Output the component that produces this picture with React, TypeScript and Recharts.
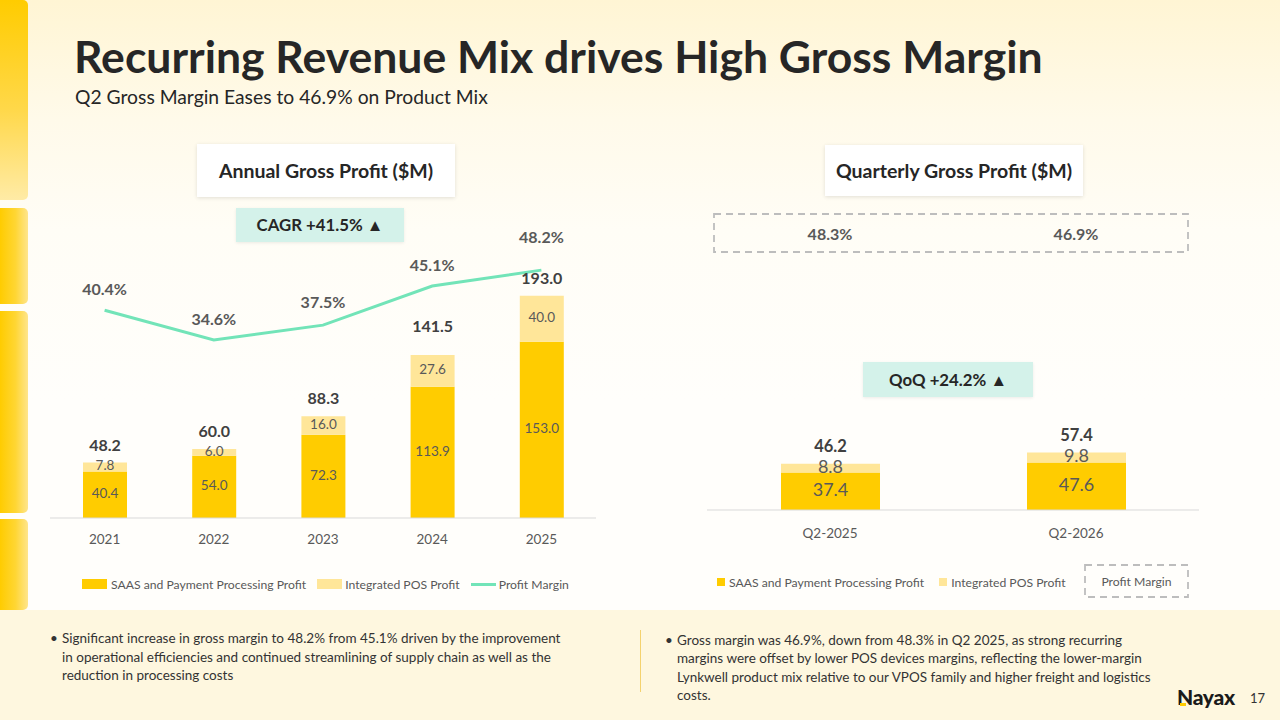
import React from 'react';
import { ComposedChart, BarChart, Bar, Line, XAxis, YAxis, LabelList } from 'recharts';

// ---------- data ----------
const years = ['2021', '2022', '2023', '2024', '2025'];
const saasAnnual = [40.4, 54.0, 72.3, 113.9, 153.0];
const posAnnual = [7.8, 6.0, 16.0, 27.6, 40.0];
const totalAnnual = [48.2, 60.0, 88.3, 141.5, 193.0];
const marginAnnual = [40.4, 34.6, 37.5, 45.1, 48.2];

const quarters = ['Q2-2025', 'Q2-2026'];
const saasQuarterly = [37.4, 47.6];
const posQuarterly = [8.8, 9.8];
const totalQuarterly = [46.2, 57.4];
const marginQuarterly = [48.3, 46.9];

const annualData = years.map((year, i) => ({
  year,
  saas: saasAnnual[i],
  pos: posAnnual[i],
  total: totalAnnual[i],
  margin: marginAnnual[i],
}));
const quarterlyData = quarters.map((q, i) => ({
  q,
  saas: saasQuarterly[i],
  pos: posQuarterly[i],
  total: totalQuarterly[i],
}));

// ---------- styles ----------
const FONT = "Lato, 'Noto Sans', sans-serif";
const SAAS = '#FFCC00';
const POS = '#FFE699';
const MINT = '#72E4B8';
const AXIS = '#D9D9D9';

const fmt1 = (v: number) => v.toFixed(1);

const TotalLabelLeft = (props: any) => {
  const { x, y, width, index } = props;
  const lift = index === 3 ? 27 : 16;
  return (
    <text x={x + width / 2} y={y - lift} textAnchor="middle" dominantBaseline="middle"
      fontFamily={FONT} fontSize={16} fontWeight={700} fill="#404040">
      {fmt1(totalAnnual[index])}
    </text>
  );
};

const PctLabel = (props: any) => {
  const { x, y, index, value } = props;
  const lift = index === 4 ? 31 : index === 2 ? 21 : 19;
  return (
    <text x={x} y={y - lift} textAnchor="middle" dominantBaseline="middle"
      fontFamily={FONT} fontSize={16} fontWeight={700} fill="#595959">
      {fmt1(value)}%
    </text>
  );
};

const InsideLabel = (size: number) => (props: any) => {
  const { x, y, width, height, value } = props;
  return (
    <text x={x + width / 2} y={y + height / 2} textAnchor="middle" dominantBaseline="middle"
      fontFamily={FONT} fontSize={size} fill="#595959">
      {fmt1(value)}
    </text>
  );
};

const TotalLabelRight = (props: any) => {
  const { x, y, width, index } = props;
  return (
    <text x={x + width / 2} y={y - 16} textAnchor="middle" dominantBaseline="middle"
      fontFamily={FONT} fontSize={16.5} fontWeight={700} fill="#404040">
      {fmt1(totalQuarterly[index])}
    </text>
  );
};

const abs = (l: number, t: number, w: number, h: number): React.CSSProperties => ({
  position: 'absolute', left: l, top: t, width: w, height: h,
});

const whiteBox: React.CSSProperties = {
  background: '#ffffff',
  boxShadow: '0 1px 4px rgba(0,0,0,0.12)',
  display: 'flex', alignItems: 'center', justifyContent: 'center',
  fontWeight: 700, fontSize: 19.5, color: '#262626', whiteSpace: 'nowrap',
};
const mintBox: React.CSSProperties = {
  background: '#D4F2EA',
  boxShadow: '0 1px 3px rgba(0,0,0,0.08)',
  display: 'flex', alignItems: 'center', justifyContent: 'center',
  fontWeight: 700, fontSize: 16.8, color: '#262626', whiteSpace: 'nowrap',
};

const Tab = ({ top, height, vertical }: { top: number; height: number; vertical?: boolean }) => (
  <div style={{
    ...abs(0, top, 28, height),
    borderRadius: '0 5px 5px 0',
    background: vertical
      ? 'linear-gradient(180deg, #FFCC00 0%, #FFD84A 55%, #FFEBA6 100%)'
      : 'linear-gradient(90deg, #FFCC00 0%, #FFD633 55%, #FFE58C 100%)',
  }} />
);

const DashedBox = ({ l, t, w, h }: { l: number; t: number; w: number; h: number }) => (
  <svg style={{ position: 'absolute', left: l, top: t }} width={w} height={h}>
    <rect x={1} y={1} width={w - 2} height={h - 2} fill="none" stroke="#BDBDBD" strokeWidth={1.8} strokeDasharray="7 5" />
  </svg>
);

const legendText: React.CSSProperties = { fontSize: 12.2, color: '#595959', whiteSpace: 'nowrap' };

export default function App() {
  return (
    <div style={{
      position: 'absolute', left: 0, top: 0, width: 1280, height: 720, overflow: 'hidden',
      fontFamily: FONT,
      background: 'linear-gradient(180deg, #FFF5D4 0px, #FFFAEA 120px, #FFFDF6 230px, #FFFEFB 400px, #FFFEFB 720px)',
    }}>
      {/* bottom band */}
      <div style={{ ...abs(0, 610, 1280, 110), background: '#FEF7DF' }} />

      {/* left tabs */}
      <Tab top={0} height={200} vertical />
      <Tab top={208} height={96} />
      <Tab top={311} height={202} />
      <Tab top={519} height={91} />

      {/* title */}
      <div style={{ position: 'absolute', left: 74, top: 29, fontSize: 44.5, fontWeight: 700, color: '#262626', whiteSpace: 'nowrap', lineHeight: '54px' }}>
        Recurring Revenue Mix drives High Gross Margin
      </div>
      <div style={{ position: 'absolute', left: 75, top: 85, fontSize: 19.3, color: '#262626', whiteSpace: 'nowrap', lineHeight: '24px' }}>
        Q2 Gross Margin Eases to 46.9% on Product Mix
      </div>

      {/* panel headers */}
      <div style={{ ...abs(197, 144, 258, 53), ...whiteBox }}>Annual Gross Profit ($M)</div>
      <div style={{ ...abs(825, 145, 258, 51), ...whiteBox }}>Quarterly Gross Profit ($M)</div>

      <div style={{ ...abs(236, 208, 168, 34), ...mintBox }}>CAGR +41.5% ▲</div>
      <div style={{ ...abs(863, 362, 170, 35), ...mintBox }}>QoQ +24.2% ▲</div>

      {/* annual chart */}
      <div style={abs(50, 200, 546, 350)}>
        <ComposedChart width={546} height={350} data={annualData} margin={{ top: 30, right: 0, bottom: 0, left: 0 }}>
          <XAxis dataKey="year" height={32} axisLine={{ stroke: AXIS }} tickLine={false} tickSize={6} tickMargin={10}
            tick={{ fill: '#595959', fontSize: 13.5, fontFamily: FONT }} />
          <YAxis yAxisId="left" hide domain={[0, 250]} />
          <YAxis yAxisId="right" orientation="right" hide domain={[0, 56]} />
          <Bar yAxisId="left" dataKey="saas" stackId="a" fill={SAAS} barSize={44} isAnimationActive={false}>
            <LabelList dataKey="saas" content={InsideLabel(13.5)} />
          </Bar>
          <Bar yAxisId="left" dataKey="pos" stackId="a" fill={POS} barSize={44} isAnimationActive={false}>
            <LabelList dataKey="pos" content={InsideLabel(13.5)} />
            <LabelList dataKey="total" content={TotalLabelLeft} />
          </Bar>
          <Line yAxisId="right" dataKey="margin" stroke={MINT} strokeWidth={3} dot={false} type="linear" isAnimationActive={false}>
            <LabelList dataKey="margin" content={PctLabel} />
          </Line>
        </ComposedChart>
      </div>

      {/* annual legend */}
      <div style={{ position: 'absolute', left: 82, top: 576, height: 16, display: 'flex', alignItems: 'center' }}>
        <div style={{ width: 25, height: 10, background: SAAS, marginRight: 4 }} />
        <span style={legendText}>SAAS and Payment Processing Profit</span>
        <div style={{ width: 25, height: 10, background: POS, marginLeft: 11, marginRight: 3 }} />
        <span style={legendText}>Integrated POS Profit</span>
        <div style={{ width: 25, height: 3, background: MINT, marginLeft: 11, marginRight: 3 }} />
        <span style={legendText}>Profit Margin</span>
      </div>

      {/* quarterly margin box */}
      <DashedBox l={713} t={213} w={476} h={40} />
      <div style={{ ...abs(707, 214, 492, 38), display: 'flex' }}>
        {marginQuarterly.map((m) => (
          <div key={m} style={{ flex: 1, display: 'flex', alignItems: 'center', justifyContent: 'center', fontWeight: 700, fontSize: 16, color: '#595959' }}>
            {fmt1(m)}%
          </div>
        ))}
      </div>

      {/* quarterly chart */}
      <div style={abs(707, 400, 492, 140)}>
        <BarChart width={492} height={140} data={quarterlyData} margin={{ top: 20, right: 0, bottom: 0, left: 0 }}>
          <XAxis dataKey="q" height={30} axisLine={{ stroke: AXIS }} tickLine={false} tickSize={6} tickMargin={12}
            tick={{ fill: '#595959', fontSize: 13.5, fontFamily: FONT }} />
          <YAxis hide domain={[0, 90]} />
          <Bar dataKey="saas" stackId="a" fill={SAAS} barSize={99} isAnimationActive={false}>
            <LabelList dataKey="saas" content={InsideLabel(18)} />
          </Bar>
          <Bar dataKey="pos" stackId="a" fill={POS} barSize={99} isAnimationActive={false}>
            <LabelList dataKey="pos" content={InsideLabel(18)} />
            <LabelList dataKey="total" content={TotalLabelRight} />
          </Bar>
        </BarChart>
      </div>

      {/* quarterly legend */}
      <div style={{ position: 'absolute', left: 717, top: 574, height: 16, display: 'flex', alignItems: 'center' }}>
        <div style={{ width: 8, height: 8, background: SAAS, marginRight: 4 }} />
        <span style={legendText}>SAAS and Payment Processing Profit</span>
        <div style={{ width: 8, height: 8, background: POS, marginLeft: 15, marginRight: 4 }} />
        <span style={legendText}>Integrated POS Profit</span>
      </div>
      <DashedBox l={1084} t={564} w={105} h={34} />
      <div style={{ ...abs(1085, 565, 103, 32), display: 'flex', alignItems: 'center', justifyContent: 'center', ...legendText }}>
        Profit Margin
      </div>

      {/* bottom commentary */}
      <div style={{ position: 'absolute', left: 50, top: 629, fontSize: 13.5, color: '#333333', lineHeight: '18.5px', display: 'flex' }}>
        <span style={{ width: 12 }}>•</span>
        <span style={{ whiteSpace: 'nowrap' }}>
          Significant increase in gross margin to 48.2% from 45.1% driven by the improvement<br />
          in operational efficiencies and continued streamlining of supply chain as well as the<br />
          reduction in processing costs
        </span>
      </div>
      <div style={{ ...abs(640, 630, 1, 62), background: '#F4D26E' }} />
      <div style={{ position: 'absolute', left: 665, top: 631, fontSize: 13.5, color: '#333333', lineHeight: '18.3px', display: 'flex' }}>
        <span style={{ width: 12 }}>•</span>
        <span style={{ whiteSpace: 'nowrap' }}>
          Gross margin was 46.9%, down from 48.3% in Q2 2025, as strong recurring<br />
          margins were offset by lower POS devices margins, reflecting the lower-margin<br />
          Lynkwell product mix relative to our VPOS family and higher freight and logistics<br />
          costs.
        </span>
      </div>

      {/* logo + page number */}
      <div style={{ position: 'absolute', left: 1177, top: 685, fontSize: 21, fontWeight: 900, color: '#1A1A1A', letterSpacing: -0.3, lineHeight: '24px' }}>
        Nayax
      </div>
      <div style={{ ...abs(1180, 703, 6, 3), background: SAAS }} />
      <div style={{ position: 'absolute', left: 1250, top: 690, fontSize: 13, color: '#333333', lineHeight: '16px' }}>17</div>
    </div>
  );
}
